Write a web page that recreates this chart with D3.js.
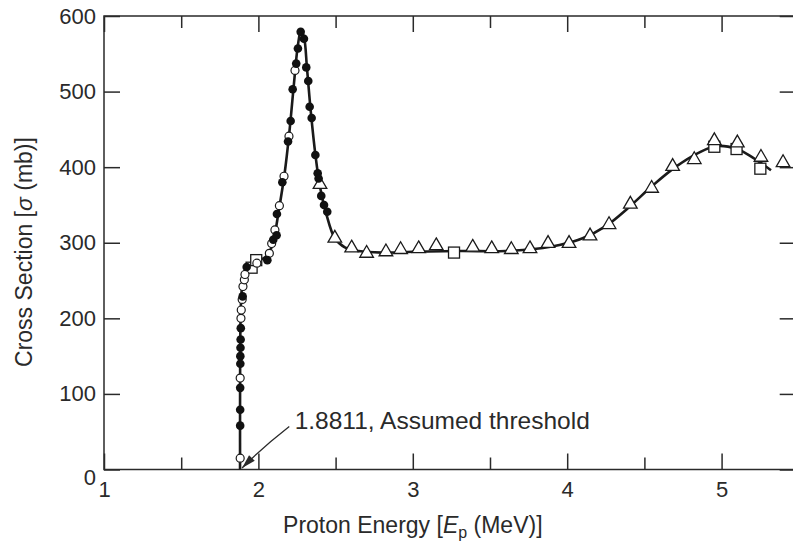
<!DOCTYPE html>
<html>
<head>
<meta charset="utf-8">
<script src="https://cdn.jsdelivr.net/npm/d3@7"></script>
<style>
  body { margin: 0; background: #fff; }
  svg { display: block; }
  text { font-family: "Liberation Sans", Arial, sans-serif; fill: #2a2a2a; }
</style>
</head>
<body>
<svg id="chart" width="793" height="544"></svg>
<script>
// data: [proton energy MeV, cross section mb]
const filledCircles = [
  [1.882, 58], [1.882, 79], [1.882, 108], [1.883, 140], [1.883, 150], [1.884, 161],
  [1.885, 172], [1.886, 187], [1.898, 229], [1.924, 268], [2.058, 277], [2.096, 304],
  [2.118, 310], [2.12, 338], [2.155, 380], [2.192, 434], [2.209, 461], [2.222, 503],
  [2.245, 537], [2.256, 557], [2.274, 579], [2.295, 570], [2.31, 532], [2.323, 514],
  [2.332, 480], [2.345, 465], [2.369, 416], [2.384, 392], [2.39, 385], [2.407, 362],
  [2.425, 350], [2.446, 341]
];
const openCircles = [
  [1.882, 15], [1.882, 121], [1.887, 200], [1.889, 211], [1.895, 225], [1.9, 242],
  [1.909, 251], [1.913, 258], [1.99, 273], [2.071, 286], [2.086, 299], [2.107, 317],
  [2.136, 349], [2.166, 388], [2.198, 441], [2.237, 528]
];
const triangles = [
  [2.399, 377], [2.495, 306], [2.604, 293], [2.701, 286], [2.826, 288], [2.921, 291],
  [3.038, 292], [3.152, 296], [3.388, 294], [3.511, 292], [3.638, 291], [3.759, 292],
  [3.876, 299], [4.012, 299], [4.148, 309], [4.271, 324], [4.409, 351], [4.547, 372],
  [4.683, 401], [4.823, 410], [4.953, 435], [5.102, 432], [5.255, 413], [5.398, 406]
];
const squares = [
  [1.956, 267], [1.986, 277], [3.267, 287], [4.953, 427], [5.097, 424], [5.251, 398]
];
const fitCurve = [
  [1.8811, 0], [1.8811, 60], [1.8815, 120], [1.883, 180], [1.887, 220], [1.895, 245],
  [1.905, 260], [1.93, 270], [1.97, 275], [2.03, 279], [2.07, 287], [2.1, 305],
  [2.13, 340], [2.17, 392], [2.2, 445], [2.23, 510], [2.255, 560], [2.275, 580],
  [2.295, 572], [2.315, 530], [2.34, 472], [2.37, 415], [2.4, 373], [2.44, 338],
  [2.495, 306], [2.56, 294], [2.65, 289], [2.8, 287], [3.0, 288], [3.3, 289],
  [3.6, 289], [3.8, 292], [3.95, 297], [4.1, 306], [4.25, 322], [4.4, 347],
  [4.55, 375], [4.7, 400], [4.85, 419], [4.97, 428], [5.1, 424], [5.2, 413], [5.32, 396]
];
const xMajorTicks = [1, 2, 3, 4, 5];
const xMinorTicks = [1.5, 2.5, 3.5, 4.5];
const yTicks = [0, 100, 200, 300, 400, 500, 600];
const threshold = 1.8811;
const annotationText = "1.8811, Assumed threshold";

const svg = d3.select("#chart");
const ink = "#2a2a2a";

const x = d3.scaleLinear().domain([1, 5.48]).range([104, 795.7]);
const y = d3.scaleLinear().domain([0, 600]).range([469.5, 16]);

// frame
svg.append("rect")
  .attr("x", x(1)).attr("y", y(600))
  .attr("width", x(5.48) - x(1)).attr("height", y(0) - y(600))
  .attr("fill", "none").attr("stroke", ink).attr("stroke-width", 1.5);

function styleAxis(g, fontSize) {
  g.select(".domain").remove();
  g.selectAll("line").attr("stroke", ink).attr("stroke-width", 1.5);
  g.selectAll("text").attr("fill", ink).style("font-size", fontSize + "px")
    .style("font-family", '"Liberation Sans", Arial, sans-serif');
}

// bottom axis, ticks pointing in
svg.append("g").attr("transform", `translate(0,${y(0)})`)
  .call(d3.axisBottom(x).tickValues(xMajorTicks).tickSize(-16).tickPadding(12).tickFormat(d3.format("d")))
  .call(g => styleAxis(g, 22));
svg.append("g").attr("transform", `translate(0,${y(0)})`)
  .call(d3.axisBottom(x).tickValues(xMinorTicks).tickSize(-12).tickFormat(""))
  .call(g => styleAxis(g, 22));
// top axis
svg.append("g").attr("transform", `translate(0,${y(600)})`)
  .call(d3.axisTop(x).tickValues(xMajorTicks).tickSize(-16).tickFormat(""))
  .call(g => styleAxis(g, 22));
svg.append("g").attr("transform", `translate(0,${y(600)})`)
  .call(d3.axisTop(x).tickValues(xMinorTicks).tickSize(-12).tickFormat(""))
  .call(g => styleAxis(g, 22));
// left axis
svg.append("g").attr("transform", `translate(${x(1)},0)`)
  .call(d3.axisLeft(y).tickValues(yTicks).tickSize(-16).tickPadding(8))
  .call(g => styleAxis(g, 22))
  .call(g => g.selectAll(".tick").filter(d => d === 0).select("text").attr("dy", "0.7em"));
// right axis
svg.append("g").attr("transform", `translate(${x(5.48)},0)`)
  .call(d3.axisRight(y).tickValues(yTicks).tickSize(-16).tickFormat(""))
  .call(g => styleAxis(g, 22));

// fitted curve
const line = d3.line().x(d => x(d[0])).y(d => y(d[1])).curve(d3.curveCatmullRom.alpha(0.5));
svg.append("path").datum(fitCurve)
  .attr("d", line).attr("fill", "none").attr("stroke", "#1a1a1a").attr("stroke-width", 2.6);

// markers
svg.append("g").selectAll("rect").data(squares).join("rect")
  .attr("x", d => x(d[0]) - 5.5).attr("y", d => y(d[1]) - 5.5)
  .attr("width", 11).attr("height", 11)
  .attr("fill", "#fff").attr("stroke", "#1a1a1a").attr("stroke-width", 1.3);

const tri = d3.symbol().type(d3.symbolTriangle).size(80);
svg.append("g").selectAll("path").data(triangles).join("path")
  .attr("transform", d => `translate(${x(d[0])},${y(d[1])})`)
  .attr("d", tri)
  .attr("fill", "#fff").attr("stroke", "#1a1a1a").attr("stroke-width", 1.3);

svg.append("g").selectAll("circle").data(openCircles).join("circle")
  .attr("cx", d => x(d[0])).attr("cy", d => y(d[1])).attr("r", 4)
  .attr("fill", "#fff").attr("stroke", "#1a1a1a").attr("stroke-width", 1.2);

svg.append("g").selectAll("circle").data(filledCircles).join("circle")
  .attr("cx", d => x(d[0])).attr("cy", d => y(d[1])).attr("r", 4.3)
  .attr("fill", "#111");

// threshold annotation: curved leader ending in an arrow at the threshold
const tipX = x(threshold) + 2, tipY = y(2);
const startX = x(2.2), startY = y(57);
const ctrlX = x(2.03), ctrlY = y(30);
svg.append("path")
  .attr("d", `M${startX},${startY} Q${ctrlX},${ctrlY} ${tipX},${tipY}`)
  .attr("fill", "none").attr("stroke", ink).attr("stroke-width", 1.3);
const ang = Math.atan2(tipY - ctrlY, tipX - ctrlX);
const headLen = 14, headHalf = 4;
const bx = tipX - headLen * Math.cos(ang), by = tipY - headLen * Math.sin(ang);
svg.append("path")
  .attr("d", `M${tipX},${tipY} L${bx + headHalf * Math.sin(ang)},${by - headHalf * Math.cos(ang)} ` +
             `L${bx - headHalf * Math.sin(ang)},${by + headHalf * Math.cos(ang)} Z`)
  .attr("fill", ink);
svg.append("text")
  .attr("x", x(2.235)).attr("y", y(53))
  .style("font-size", "24.5px")
  .text(annotationText);

// axis titles
const xt = svg.append("text")
  .attr("x", (x(1) + x(5)) / 2).attr("y", 533)
  .attr("text-anchor", "middle").style("font-size", "23px");
xt.append("tspan").text("Proton Energy [");
xt.append("tspan").style("font-style", "italic").text("E");
xt.append("tspan").attr("dy", 5).style("font-size", "16px").text("p");
xt.append("tspan").attr("dy", -5).text(" (MeV)]");

const yt = svg.append("text")
  .attr("transform", `translate(32,${252}) rotate(-90)`)
  .attr("text-anchor", "middle").style("font-size", "23px");
yt.append("tspan").text("Cross Section [");
yt.append("tspan").style("font-style", "italic").text("σ");
yt.append("tspan").text(" (mb)]");
</script>
</body>
</html>
